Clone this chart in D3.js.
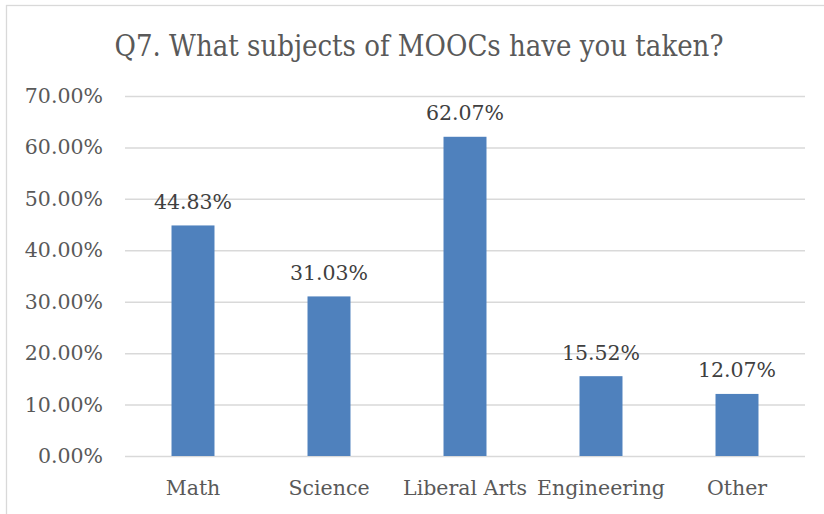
<!DOCTYPE html>
<html>
<head>
<meta charset="utf-8">
<script src="https://cdn.jsdelivr.net/npm/d3@7"></script>
<style>
  html, body { margin: 0; padding: 0; background: #fff; }
  svg { display: block; }
  text { font-family: "DejaVu Serif", serif; }
  .title { font-family: "DejaVu Serif Condensed", "DejaVu Serif", serif; font-stretch: condensed; }
</style>
</head>
<body>
<svg id="chart" width="824" height="514"></svg>
<script>
// Survey responses: share of respondents per MOOC subject
const titleText = "Q7. What subjects of MOOCs have you taken?";
const categories = ["Math", "Science", "Liberal Arts", "Engineering", "Other"];
const shares = [0.4483, 0.3103, 0.6207, 0.1552, 0.1207];
const tickValues = [0, 0.1, 0.2, 0.3, 0.4, 0.5, 0.6, 0.7];

const width = 824, height = 514;
const plot = { left: 125, right: 805, top: 96, bottom: 456 };

const svg = d3.select("#chart");

svg.append("rect")
  .attr("width", width).attr("height", height).attr("fill", "#fff");

// chart frame (extends past the right and bottom edges)
svg.append("rect")
  .attr("x", 6.5).attr("y", 5.5)
  .attr("width", 900).attr("height", 600)
  .attr("fill", "none").attr("stroke", "#d9d9d9").attr("stroke-width", 1.3);

const x = d3.scaleBand()
  .domain(categories)
  .range([plot.left, plot.right])
  .paddingInner(0.684)
  .paddingOuter(0.342);

const y = d3.scaleLinear()
  .domain([0, 0.7])
  .range([plot.bottom, plot.top]);

const fmt = d3.format(".2%");

// gridlines + value axis labels
const yAxis = d3.axisLeft(y)
  .tickValues(tickValues)
  .tickFormat(fmt)
  .tickSize(-(plot.right - plot.left))
  .tickPadding(22);

const gy = svg.append("g")
  .attr("transform", `translate(${plot.left},0)`)
  .call(yAxis);
gy.select(".domain").remove();
gy.selectAll(".tick line").attr("stroke", "#d9d9d9").attr("stroke-width", 1.5);
gy.selectAll(".tick text")
  .attr("fill", "#595959")
  .style("font-size", "20.5px")
  .style("font-family", "'DejaVu Serif', serif");

// bars
svg.append("g").selectAll("rect")
  .data(categories)
  .join("rect")
  .attr("x", d => x(d))
  .attr("width", x.bandwidth())
  .attr("y", (d, i) => y(shares[i]))
  .attr("height", (d, i) => y(0) - y(shares[i]))
  .attr("fill", "#4f81bd");

// value labels above bars
svg.append("g").selectAll("text")
  .data(categories)
  .join("text")
  .attr("x", d => x(d) + x.bandwidth() / 2)
  .attr("y", (d, i) => y(shares[i]) - 16.5)
  .attr("text-anchor", "middle")
  .attr("fill", "#404040")
  .style("font-size", "20.5px")
  .text((d, i) => fmt(shares[i]));

// category axis labels
const xAxis = d3.axisBottom(x).tickSize(0).tickPadding(0);
const gx = svg.append("g")
  .attr("transform", `translate(0,${plot.bottom})`)
  .call(xAxis);
gx.select(".domain").remove();
gx.selectAll(".tick text")
  .attr("dy", null)
  .attr("y", 39)
  .attr("fill", "#595959")
  .style("font-size", "20.5px")
  .style("font-family", "'DejaVu Serif', serif");

// title
svg.append("text")
  .attr("class", "title")
  .attr("x", 419)
  .attr("y", 56)
  .attr("text-anchor", "middle")
  .attr("fill", "#595959")
  .style("font-size", "29px")
  .text(titleText);
</script>
</body>
</html>
